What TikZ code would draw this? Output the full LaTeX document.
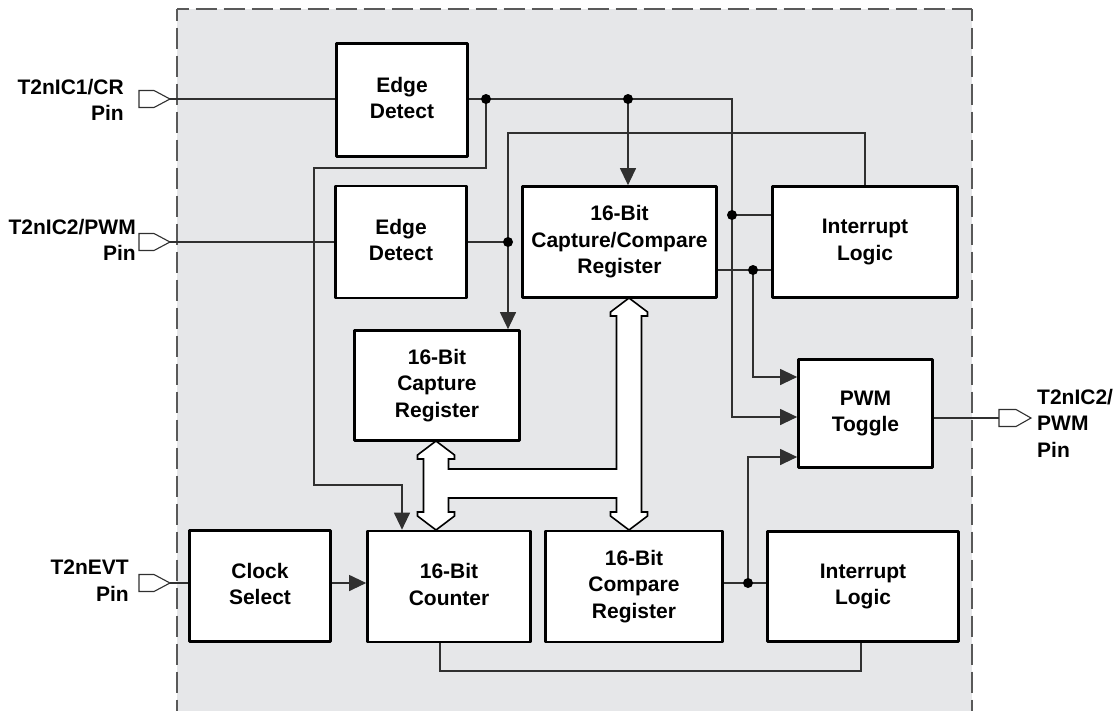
\documentclass[tikz,border=0pt]{standalone}
\usepackage{fontspec}
\setmainfont{Liberation Sans}
\usetikzlibrary{arrows.meta}
\definecolor{bggray}{HTML}{E6E7E9}
\definecolor{wirecol}{HTML}{303030}
\begin{document}
\begin{tikzpicture}[x=1pt,y=-1pt,
  every node/.style={font=\fontsize{21}{26.5}\selectfont\bfseries},
  box/.style={draw=black,fill=white,line width=2.7pt,line join=round,align=center,inner sep=0pt,
    execute at end node={\vphantom{g}}},
  lbl/.style={inner sep=0pt},
  wire/.style={draw=wirecol,line width=1.2pt},
  >={Triangle[length=17pt,width=16pt]},
  pinshape/.style={draw=wirecol,fill=white,line width=1.1pt,line join=miter},
  busshape/.style={draw=black,fill=white,line width=1.6pt,line join=miter},
  border/.style={draw=black!65,line width=1.3pt,dash pattern=on 21.5pt off 6.5pt,dash phase=9.5pt},
  dot/.style={fill=black}
]
\useasboundingbox (0,0) rectangle (1116,710);
% background region
\fill[bggray] (177,9) rectangle (972,712);
\draw[border] (177,9) -- (972,9);
\draw[border] (177,9) -- (177,712);
\draw[border] (972,9) -- (972,712);

% boxes
\node[box,minimum width=131pt,minimum height=113pt] (ed1) at (402,100) {Edge\\Detect};
\node[box,minimum width=131pt,minimum height=112pt] (ed2) at (401,242) {Edge\\Detect};
\node[box,minimum width=165pt,minimum height=110pt] (cap) at (437,385.5) {16-Bit\\Capture\\Register};
\node[box,minimum width=194pt,minimum height=111pt] (ccr) at (619.5,242) {16-Bit\\Capture/Compare\\Register};
\node[box,minimum width=185pt,minimum height=111pt] (il1) at (865,242) {Interrupt\\Logic};
\node[box,minimum width=134pt,minimum height=108pt] (pwm) at (865.5,413.5) {PWM\\Toggle};
\node[box,minimum width=141pt,minimum height=111pt] (clk) at (260,586) {Clock\\Select};
\node[box,minimum width=163pt,minimum height=111pt] (cnt) at (449,586.5) {16-Bit\\Counter};
\node[box,minimum width=177pt,minimum height=111pt] (cmp) at (634,586.5) {16-Bit\\Compare\\Register};
\node[box,minimum width=191pt,minimum height=110pt] (il2) at (863,586.5) {Interrupt\\Logic};

% pin labels
\node[lbl,anchor=east,align=right] (l1) at (124,100) {T2nIC1/CR\\Pin};
\node[lbl,anchor=east,align=right] (l2) at (136,240) {T2nIC2/PWM\\Pin};
\node[lbl,anchor=east,align=right] (l3) at (129,580.5) {T2nEVT\\Pin};
\node[lbl,anchor=west,align=left] (l4) at (1037,423) {T2nIC2/\\PWM\\Pin};

% pin symbols
\draw[pinshape] (139,90.5) -- (154,90.5) -- (170,99) -- (154,107.5) -- (139,107.5) -- cycle;
\draw[pinshape] (139,233.5) -- (154,233.5) -- (170,242) -- (154,250.5) -- (139,250.5) -- cycle;
\draw[pinshape] (139,574.5) -- (154,574.5) -- (170,583) -- (154,591.5) -- (139,591.5) -- cycle;
\draw[pinshape] (999,409.5) -- (1016,409.5) -- (1031,418) -- (1016,426.5) -- (999,426.5) -- cycle;

% bus
\draw[busshape] (436,441) -- (454.5,455) -- (454.5,459) -- (448.5,459) -- (448.5,469)
  -- (616.5,469) -- (616.5,316) -- (610.5,316) -- (610.5,312) -- (629,298)
  -- (647.5,312) -- (647.5,316) -- (641.5,316) -- (641.5,512) -- (647.5,512)
  -- (647.5,516) -- (629,530) -- (610.5,516) -- (610.5,512) -- (616.5,512)
  -- (616.5,498) -- (448.5,498) -- (448.5,512) -- (454.5,512) -- (454.5,516)
  -- (436,530) -- (417.5,516) -- (417.5,512) -- (423.5,512) -- (423.5,459)
  -- (417.5,459) -- (417.5,455) -- cycle;

% coordinates
\coordinate (p1) at (170,99);
\coordinate (p2) at (170,242);
\coordinate (p3) at (170,583);
\coordinate (p4) at (999,418);
\coordinate (jA) at (486,99);
\coordinate (jB) at (628,99);
\coordinate (tR) at (732,99);
\coordinate (jC) at (732,215);
\coordinate (jD) at (753,270);
\coordinate (jF) at (508,242);
\coordinate (tL) at (508,133);
\coordinate (k1) at (486,168);
\coordinate (k2) at (314,168);
\coordinate (k3) at (314,485);
\coordinate (k4) at (402,485);
\coordinate (jE) at (748,583);
\coordinate (bL) at (440,671);
\coordinate (bR) at (861,671);
\coordinate (yA) at (0,377);
\coordinate (yB) at (0,417);
\coordinate (yC) at (0,457);
\coordinate (row) at (0,583);

% wires
\draw[wire] (p1) -- (p1 -| ed1.west);
\draw[wire,->] (ed1.east |- p1) -- (tR) -- (tR |- yB) -- (pwm.west |- yB);
\draw[wire,->] (jA) -- (k1) -- (k2) -- (k3) -- (k4) -- (k4 |- cnt.north);
\draw[wire,->] (jB) -- (jB |- ccr.north);
\draw[wire,->] (il1.north) -- (il1.north |- tL) -- (tL) -- (tL |- cap.north);
\draw[wire] (p2) -- (ed2.west);
\draw[wire] (ed2.east) -- (jF);
\draw[wire] (il1.west |- jC) -- (jC);
\draw[wire] (ccr.east |- jD) -- (il1.west |- jD);
\draw[wire,->] (jD) |- (pwm.west |- yA);
\draw[wire] (p3) -- (clk.west |- row);
\draw[wire,->] (clk.east |- row) -- (cnt.west |- row);
\draw[wire] (cmp.east |- row) -- (il2.west |- row);
\draw[wire,->] (jE) |- (pwm.west |- yC);
\draw[wire] (bL |- cnt.south) -- (bL) -- (bR) -- (bR |- il2.south);
\draw[wire] (pwm.east |- p4) -- (p4);

% junction dots
\foreach \j in {jA,jB,jC,jD,jE,jF} \fill[dot] (\j) circle (5pt);
\end{tikzpicture}
\end{document}
